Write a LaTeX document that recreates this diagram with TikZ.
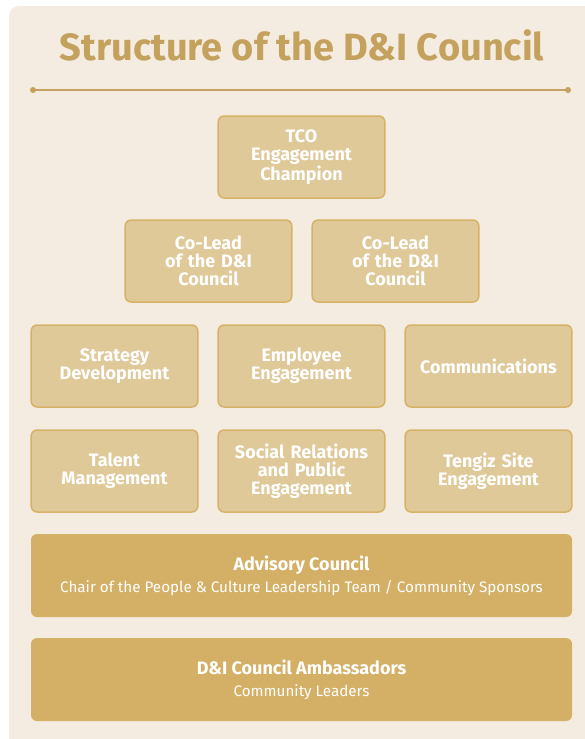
\documentclass[tikz,border=0pt]{standalone}
\usepackage{fontspec}
\setmainfont{Fira Sans}
\usepackage{tikz}

\definecolor{panelbg}{HTML}{F4ECE1}
\definecolor{gold}{HTML}{C4A25E}
\definecolor{boxfill}{HTML}{E0C999}
\definecolor{boxline}{HTML}{D6B266}
\definecolor{bandfill}{HTML}{D4B066}

\begin{document}
\begin{tikzpicture}
  [x=1pt,y=-1pt,
   unit/.style={draw=boxline,fill=boxfill,line width=1.5pt,rounded corners=6pt,
     minimum width=165pt,minimum height=82pt,text width=160pt,align=center,
     text=white,font=\bfseries\fontsize{18}{18}\selectfont},
   band/.style={fill=bandfill,rounded corners=6pt,minimum width=541pt,
     minimum height=83pt,align=center,text=white,font=\fontsize{15.2}{22}\selectfont}]
  \useasboundingbox (0,0) rectangle (585,739);
  \clip (0,0) rectangle (585,739);
  \fill [panelbg,rounded corners=10pt] (9,6) rectangle (610,760);

  \node [text=gold,font=\bfseries\fontsize{38}{40}\selectfont] (title) at (302,45) {Structure of the D\&I Council};
  \coordinate (rl) at (33,90);
  \coordinate (rr) at (568,90);
  \draw [gold,line width=1.5pt] (rl) -- (rr);
  \fill [gold] (rl) circle (3pt) (rr) circle (3pt);

  \node [unit] (tco) at (301.5,157) {TCO\\Engagement\\Champion};
  \node [unit] (lead1) at (208.5,261) {Co-Lead\\of the D\&I\\Council};
  \node [unit] (lead2) at (395.5,261) {Co-Lead\\of the D\&I\\Council};

  \node [unit] (strat) at (114.5,366) {Strategy\\Development};
  \node [unit] (empl) at (301.5,366) {Employee\\Engagement};
  \node [unit] (comm) at (488.5,366) {Communications};
  \node [unit] (talent) at (114.5,471) {Talent\\Management};
  \node [unit] (social) at (301.5,471) {Social Relations\\and Public\\Engagement};
  \node [unit] (tengiz) at (488.5,471) {Tengiz Site\\Engagement};

  \node [band] (advisory) at (301.5,575.5) {{\bfseries\fontsize{18}{22}\selectfont Advisory Council}\\
    Chair of the People \& Culture Leadership Team / Community Sponsors};
  \node [band] (ambass) at (301.5,679.5) {{\bfseries\fontsize{18}{22}\selectfont D\&I Council Ambassadors}\\
    Community Leaders};

\end{tikzpicture}
\end{document}
